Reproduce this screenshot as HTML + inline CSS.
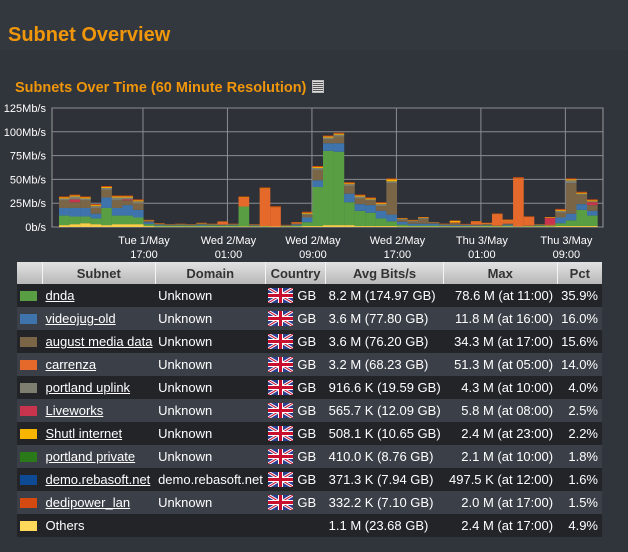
<!DOCTYPE html>
<html><head><meta charset="utf-8"><style>
body{margin:0;width:628px;height:552px;background:#30343b;font-family:"Liberation Sans",sans-serif;overflow:hidden;position:relative}
.hdr{position:absolute;left:0;top:0;width:628px;height:50px;background:#33373e}
h1{position:absolute;left:8px;top:24px;margin:0;font-size:20px;font-weight:bold;color:#f0960a}
h2{position:absolute;left:15px;top:80px;margin:0;font-size:14.5px;font-weight:bold;color:#f0960a}
.ic{position:absolute;left:312px;top:80px;width:10px;height:11px;border:1px solid #bbb;background:repeating-linear-gradient(#ddd 0 1px,#555 1px 2px)}
table{position:absolute;left:17px;top:262px;width:585px;border-collapse:collapse;font-size:13px;color:#fff}
th{height:22px;background:linear-gradient(#e2e2e2,#b8b8b8);color:#333;font-weight:bold;border-left:1px solid #f4f4f4;padding:0 4px;text-align:center}
td{height:23px;padding:0 0 0 3px;white-space:nowrap;line-height:15px;vertical-align:middle}
tr.d td{background:#222428}tr.l td{background:#3b4048}
td a{color:#fff;text-decoration:underline}
.sw{display:inline-block;width:17px;height:10px;vertical-align:-1px}
.fl{display:inline-block;width:25px;height:15px;vertical-align:-3px;margin-right:4px}
td.r{text-align:right;padding-right:4px}
</style></head><body>
<div class="hdr"></div>
<h1>Subnet Overview</h1>
<h2>Subnets Over Time (60 Minute Resolution)</h2>
<div class="ic"></div>
<svg id="chart" width="628" height="260" style="position:absolute;left:0;top:0"></svg>
<table>
<tr><th style="width:17px;border-left:none"></th><th>Subnet</th><th>Domain</th><th>Country</th><th>Avg Bits/s</th><th>Max</th><th>Pct</th></tr>
</table>
<script>
const categories=["Tue 10:00","11:00","12:00","13:00","14:00","15:00","16:00","17:00","18:00","19:00","20:00","21:00","22:00","23:00","Wed 00:00","01:00","02:00","03:00","04:00","05:00","06:00","07:00","08:00","09:00","10:00","11:00","12:00","13:00","14:00","15:00","16:00","17:00","18:00","19:00","20:00","21:00","22:00","23:00","Thu 00:00","01:00","02:00","03:00","04:00","05:00","06:00","07:00","08:00","09:00","10:00","11:00","12:00"];
const others=[2,3,4,3,2,3,3,3,1,0.5,0.5,0.5,0.5,0.5,0.5,0.5,0.5,0.5,0.5,0.5,0.5,0.5,0.5,1,1,2,2,2,1,1,1,1,0.5,0.5,0.5,0.5,0.5,0.5,0.5,0.5,0.5,0.5,0.5,0.5,0.5,0.5,0.5,1,1,1,1];
const dnda=[10,8,7,6,18,9,9,7,2,1,1,1,1,1,1,1,1,21,0.5,0.5,0,0.5,1,4,41,78,77,24,16,14,8,5,2,1,1,1,0.5,0.5,0.5,0.5,1,0.5,1,0,0.5,1,1,3,6,17,11];
const videojug=[8,9,9,5,11,8,11,8,2,1,0.5,0.5,0.5,1,0.5,0.5,0.5,0,0.5,0,0,0.3,1,5,7,8,9,9,7,8,8,7,3,2,2,2,1,1,1,0.5,0.5,0,1,0,0,0.5,0,6,7,6,5];
const august=[8,6,8,6,8,8,5,7,1,0.5,0.5,1,0.5,1,1,0.5,1,0,1,0,0,0.5,1,3,11,4,7,8,6,5,5,33,2,2,5,0.5,1,2,0.5,1,1,0.5,1,0.5,0.5,0.5,0,5,32,10,6];
const carrenza=[0,0,0,0,0,0,0,0,0,0,0,0,0,0,0,3,0,9,0,39,20,0,1,0,0,0,0,0,0,0,0,0,0,0,0,0,0,1,0,3,1,12,3.5,50,9,0,1,0,0,0,0];
const liveworks=[0,3,0,0,0,0,1,0,0,0,0,0,0,0,0,0,0,0,0,0,0,0,0,0,0,0,0,0,0,0,0,0,0,0,0,0,0,0,0,0,0,0,0,0,0,0,7,0,0,0,3];
const portland=[2,3,2,2,2,3,2,2,0.5,0,0,0,0,0,0,0,0,0,0,0,0,0,0,1,2,2,2,2,2,1,2,2,1,1,1,0.5,0,0,0,0,0,0,0,0,0,0,0,2,3,1,1];
const shutl=[1,1,1,1,1,1,1,1,0.5,0.5,0.2,0.2,0.2,0.5,0.2,0.2,0.2,0.5,0.2,0.5,0.3,0.2,0.3,1,1,1,1,1,1,1,1,2,0.5,0.5,0.5,0.3,0.3,1.5,0.3,0.3,0.2,0.2,0.5,0.3,0.2,0.2,0.5,1,1,1,1];
const dedipower=[1,1,1,1,1,1,1,1,0.5,0.5,0.3,0.3,0.3,0.5,0.3,0.3,0.3,1,0.3,1,1,0.3,0.5,1,1,1,1,1,1,1,1,1,0.5,0.5,0.5,0.3,0.3,0.5,0.5,0.5,0.3,0.5,0.5,1,0.5,0.3,0.5,1,1,1,1];
const yTicks=[0,25,50,75,100,125];
const yTickLabels=["0b/s","25Mb/s","50Mb/s","75Mb/s","100Mb/s","125Mb/s"];
const xTickIdx=[7,15,23,31,39,47];
const xTickLabels=[["Tue 1/May","17:00"],["Wed 2/May","01:00"],["Wed 2/May","09:00"],["Wed 2/May","17:00"],["Thu 3/May","01:00"],["Thu 3/May","09:00"]];
const series=[[others,"#f8cf48","others"],[dnda,"#5a9e44","dnda"],[videojug,"#3e74ab","videojug-old"],[august,"#7a6647","august-media-data"],[carrenza,"#e4692a","carrenza"],[liveworks,"#c8334d","liveworks"],[portland,"#7d7e70","portland-uplink"],[shutl,"#f7b500","shutl-internet"],[dedipower,"#d44a10","dedipower-lan"]];
const NS="http://www.w3.org/2000/svg",svg=document.getElementById("chart");
const X0=52,X1=603,Y0=227,Y1=108,bw=10.56,bx0=59;
const y=v=>Y0-(v/125)*(Y0-Y1);
const bx=i=>bx0+i*bw;
function mk(t,a){const e=document.createElementNS(NS,t);for(const k in a)e.setAttribute(k,a[k]);svg.appendChild(e);return e;}
const bg=mk("rect",{x:X0,y:Y1,width:X1-X0,height:Y0-Y1,fill:"#2e3238",stroke:"#999"});


yTicks.forEach((v,k)=>{
 const l=mk("line",{x1:X0,x2:X1,y1:y(v),y2:y(v),stroke:"#8a8d92","stroke-width":1});
 
 
 const t=mk("text",{x:46,y:y(v)+4,"text-anchor":"end","font-size":"11","fill":"#fff"});t.textContent=yTickLabels[k];
 
 
});
xTickIdx.forEach((i,k)=>{
 const xx=bx(i+1)-0.5;
 const l=mk("line",{x1:xx,x2:xx,y1:Y1,y2:Y0,stroke:"#8a8d92"});
 
 
 xTickLabels[k].forEach((s,j)=>{const t=mk("text",{x:xx+1,y:Y0+17+j*14,"text-anchor":"middle","font-size":"11","fill":"#fff"});t.textContent=s;
 
 });
});
categories.forEach((c,i)=>{
 let base=0;
 series.forEach(([arr,col,nm])=>{
  const v=arr[i];if(!v)return;
  const r=mk("rect",{x:bx(i),y:y(base+v),width:bw+0.1,height:y(base)-y(base+v),fill:col});
  
  
  base+=v;
 });
});
const rows=[["#5a9e44","dnda","Unknown",1,"8.2 M (174.97 GB)","78.6 M (at 11:00)","35.9%"],["#3e74ab","videojug-old","Unknown",1,"3.6 M (77.80 GB)","11.8 M (at 16:00)","16.0%"],["#7a6647","august media data","Unknown",1,"3.6 M (76.20 GB)","34.3 M (at 17:00)","15.6%"],["#e4692a","carrenza","Unknown",1,"3.2 M (68.23 GB)","51.3 M (at 05:00)","14.0%"],["#7d7e70","portland uplink","Unknown",1,"916.6 K (19.59 GB)","4.3 M (at 10:00)","4.0%"],["#c8334d","Liveworks","Unknown",1,"565.7 K (12.09 GB)","5.8 M (at 08:00)","2.5%"],["#f7b500","Shutl internet","Unknown",1,"508.1 K (10.65 GB)","2.4 M (at 23:00)","2.2%"],["#2a7a1a","portland private","Unknown",1,"410.0 K (8.76 GB)","2.1 M (at 10:00)","1.8%"],["#0e4a94","demo.rebasoft.net","demo.rebasoft.net",1,"371.3 K (7.94 GB)","497.5 K (at 12:00)","1.6%"],["#d44a10","dedipower_lan","Unknown",1,"332.2 K (7.10 GB)","2.0 M (at 17:00)","1.5%"],["#fed95a","Others","",0,"1.1 M (23.68 GB)","2.4 M (at 17:00)","4.9%"]];
const flag='<svg class="fl" viewBox="0 0 50 30"><rect width="50" height="30" fill="#2a3d8f"/><path d="M0 0L50 30M50 0L0 30" stroke="#fff" stroke-width="6"/><path d="M0 0L50 30M50 0L0 30" stroke="#c8102e" stroke-width="2"/><path d="M25 0V30M0 15H50" stroke="#fff" stroke-width="10"/><path d="M25 0V30M0 15H50" stroke="#c8102e" stroke-width="6"/></svg>';
const tb=document.querySelector("table");
rows.forEach((r,i)=>{
 const tr=document.createElement("tr");tr.className=i%2?"l":"d";
 
 
 tr.innerHTML=`<td><span class="sw" style="background:${r[0]}"></span></td><td>${r[3]?'<a>'+r[1]+'</a>':r[1]}</td><td>${r[2]}</td><td>${r[3]?flag+'GB':''}</td><td>${r[4]}</td><td class="r">${r[5]}</td><td class="r">${r[6]}</td>`;
 tb.appendChild(tr);
 const a=tr.querySelector("a");
 if(a){
 }
});
</script>
</body></html>
